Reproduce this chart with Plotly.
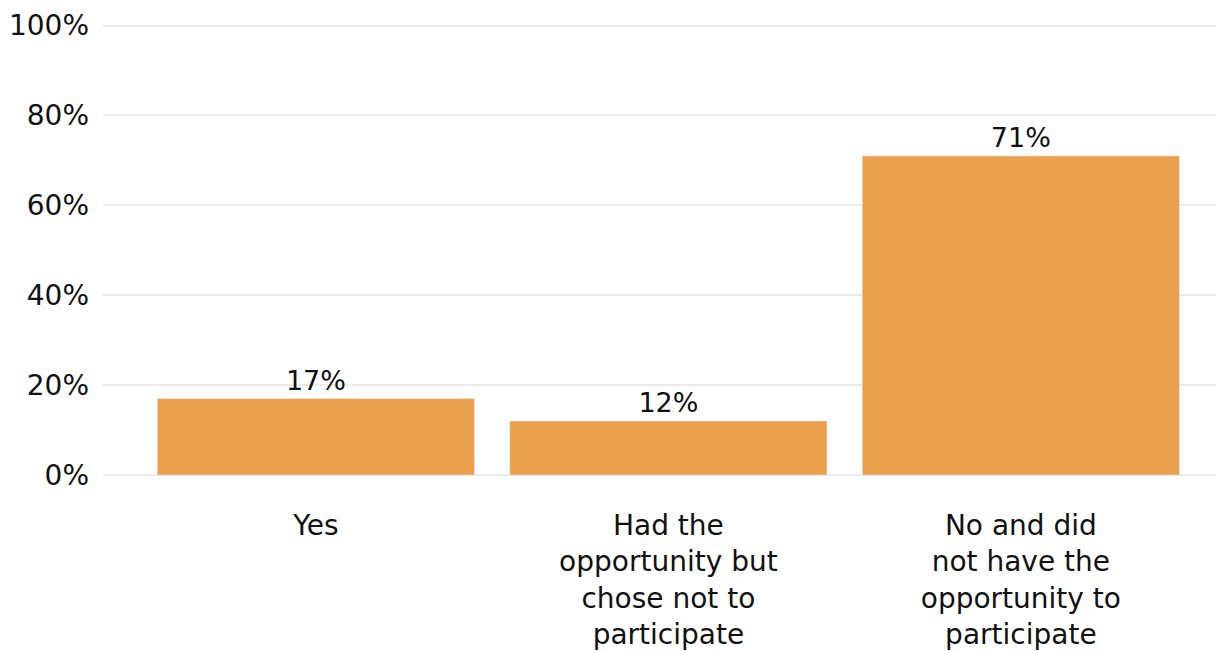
import plotly.graph_objects as go

categories = ["Yes", "Had the<br>opportunity but<br>chose not to<br>participate",
              "No and did<br>not have the<br>opportunity to<br>participate"]
values = [17, 12, 71]
value_labels = ["17%", "12%", "71%"]
tick_vals = [0, 20, 40, 60, 80, 100]
tick_text = ["0%", "20%", "40%", "60%", "80%", "100%"]

FONT = "DejaVu Sans"

fig = go.Figure(go.Bar(
    x=categories, y=values, text=value_labels, textposition="outside",
    textfont=dict(family=FONT, size=27, color="#111111"),
    marker=dict(color="#EBA04E"), cliponaxis=False,
))

fig.update_layout(
    width=1224, height=651,
    margin=dict(l=95, r=0, t=16, b=184),
    plot_bgcolor="white", paper_bgcolor="white",
    bargap=0.1, showlegend=False,
    font=dict(family=FONT, size=28, color="#111111"),
)
fig.update_xaxes(range=[-0.604, 2.599], showgrid=False, showline=False,
                 ticks="", automargin=False, ticklabelstandoff=31,
                 tickfont=dict(family=FONT, size=28))
fig.update_yaxes(range=[0, 100.35], tickvals=tick_vals, ticktext=tick_text,
                 showgrid=True, gridcolor="#EBEBEB", gridwidth=2,
                 zeroline=True, zerolinecolor="#EBEBEB", zerolinewidth=2,
                 showline=False, ticks="", ticklabelstandoff=13, automargin=False,
                 ticklabeloverflow="allow",
                 tickfont=dict(family=FONT, size=28))

fig.write_html("out.html")
